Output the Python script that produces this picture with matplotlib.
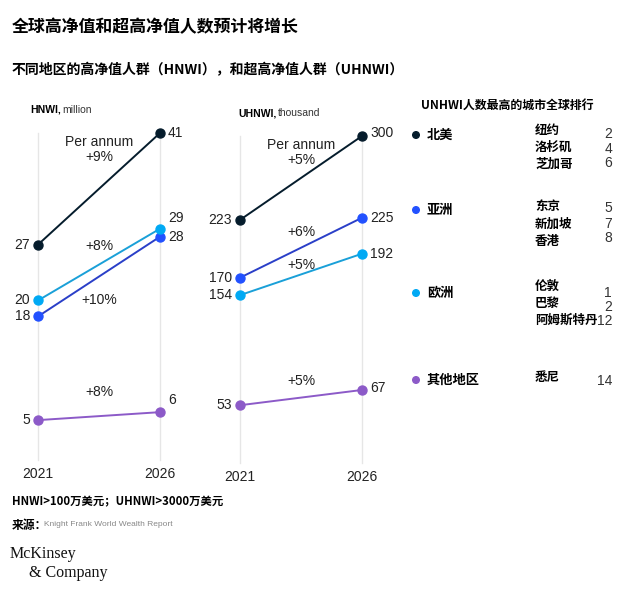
import matplotlib.pyplot as plt

plt.rcParams['font.family'] = ['Liberation Sans', 'Noto Sans CJK SC', 'DejaVu Sans']

# data
years = [2021, 2026]
regions = ['北美', '亚洲', '欧洲', '其他地区']
hnwi_2021 = [27, 18, 20, 5]
hnwi_2026 = [41, 28, 29, 6]
hnwi_growth = ['Per annum\n+9%', '+10%', '+8%', '+8%']
uhnwi_2021 = [223, 170, 154, 53]
uhnwi_2026 = [300, 225, 192, 67]
uhnwi_growth = ['Per annum\n+5%', '+6%', '+5%', '+5%']
cities = [['纽约', '洛杉矶', '芝加哥'], ['东京', '新加坡', '香港'],
          ['伦敦', '巴黎', '阿姆斯特丹'], ['悉尼']]
city_rank = [[2, 4, 6], [5, 7, 8], [1, 2, 12], [14]]

dot_colors = ['#051c2c', '#2251ff', '#00a9f4', '#8c5ac8']
line_colors = ['#051c2c', '#2a3fc8', '#1aa0d8', '#8c5ac8']
CJK = ['Noto Sans CJK SC', 'DejaVu Sans']

W, H = 640, 600
fig = plt.figure(figsize=(6.4, 6.0), dpi=100)


def px(x, y):
    return x / W, 1 - y / H


def unit_label(x, y, bold, rest):
    # bold part followed by a regular part, placed right after it
    t = fig.text(*px(x, y), bold, fontsize=7.5, fontweight='bold', va='center')
    r = fig.canvas.get_renderer()
    bb = t.get_window_extent(renderer=r)
    fig.text(*px(x + bb.width + 2, y), rest, fontsize=7.5, va='center', color='#333333')


def panel(rect, v0, v1, growth, ymax, growth_y, right_dy):
    ax = fig.add_axes(rect)
    ax.set_xlim(years)
    ax.set_ylim(0, ymax)
    ax.axis('off')
    for yr in years:
        ax.plot([yr, yr], [0, ymax], color='#e6e6e6', lw=1, zorder=0, clip_on=False)
    for i in range(len(regions)):
        ax.plot(years, [v0[i], v1[i]], color=line_colors[i], lw=1.4, zorder=2, clip_on=False)
        ax.scatter(years, [v0[i], v1[i]], s=42, color=dot_colors[i], zorder=3, clip_on=False)
        ax.annotate(str(v0[i]), (years[0], v0[i]), xytext=(-8, 0), textcoords='offset pixels',
                    ha='right', va='center', fontsize=10, color='#222222')
        ax.annotate(str(v1[i]), (years[1], v1[i]), xytext=(8, right_dy[i]), textcoords='offset pixels',
                    ha='left', va='center', fontsize=10, color='#222222')
        ax.text(2023.5, growth_y[i], growth[i], ha='center', va='center', fontsize=10,
                color='#222222', linespacing=1.1)
    for yr in years:
        ax.annotate(str(yr), (yr, 0), xytext=(0, -14), textcoords='offset pixels',
                    ha='center', va='center', fontsize=10, color='#222222')
    return ax


# HNWI panel
l, b = px(38, 460)
panel([l, b, 122 / W, 327 / H], hnwi_2021, hnwi_2026, hnwi_growth, 41,
      [38.9, 20, 26.8, 8.5], [0, 0, 11, 12])
unit_label(30, 110, 'HNWI,', 'million')

# UHNWI panel
l, b = px(240, 463)
panel([l, b, 122 / W, 327 / H], uhnwi_2021, uhnwi_2026, uhnwi_growth, 300,
      [285, 212, 182, 75], [3, 0, 0, 2])
unit_label(238, 113, 'UHNWI,', 'thousand')

# titles
fig.text(*px(12, 27), '全球高净值和超高净值人数预计将增长', fontsize=12.2, fontweight='bold',
         family=CJK, va='center')
fig.text(*px(12, 70), '不同地区的高净值人群（HNWI），和超高净值人群（UHNWI）', fontsize=10,
         fontweight='bold', family=CJK, va='center')

# city ranking list
fig.text(*px(421, 105), 'UNHWI人数最高的城市全球排行', fontsize=8.6, fontweight='bold',
         family=CJK, va='center')
region_y = [135, 210, 293, 380]
city_y = [[130, 147, 164], [206, 224, 242], [286, 303, 320], [378]]
rank_y = [[134, 149, 163], [208, 224, 238], [293, 307, 321], [381]]
for i, reg in enumerate(regions):
    fig.patches.append(plt.Circle((416, H - region_y[i]), 3.3, transform=None,
                                  color=dot_colors[i], figure=fig))
    fig.text(*px(427, region_y[i]), reg, fontsize=9.5, fontweight='bold', family=CJK, va='center')
    for c, r, cy, ry in zip(cities[i], city_rank[i], city_y[i], rank_y[i]):
        fig.text(*px(535, cy), c, fontsize=9, fontweight='bold', family=CJK, va='center')
        fig.text(*px(612, ry), str(r), fontsize=10, va='center', ha='right', color='#333333')

# footer
fig.text(*px(12, 502), 'HNWI>100万美元；UHNWI>3000万美元', fontsize=8.2, fontweight='bold',
         family=CJK, va='center')
fig.text(*px(12, 525), '来源：', fontsize=8.5, fontweight='bold', family=CJK, va='center')
fig.text(*px(44, 525), 'Knight Frank World Wealth Report', fontsize=6, color='#888888', va='center')
fig.text(*px(10, 554), 'McKinsey', fontsize=11.5, family='Liberation Serif', va='center', color='#111111')
fig.text(*px(29, 573), '& Company', fontsize=11.5, family='Liberation Serif', va='center', color='#111111')

fig.savefig('out.png', dpi=100, facecolor='white')
